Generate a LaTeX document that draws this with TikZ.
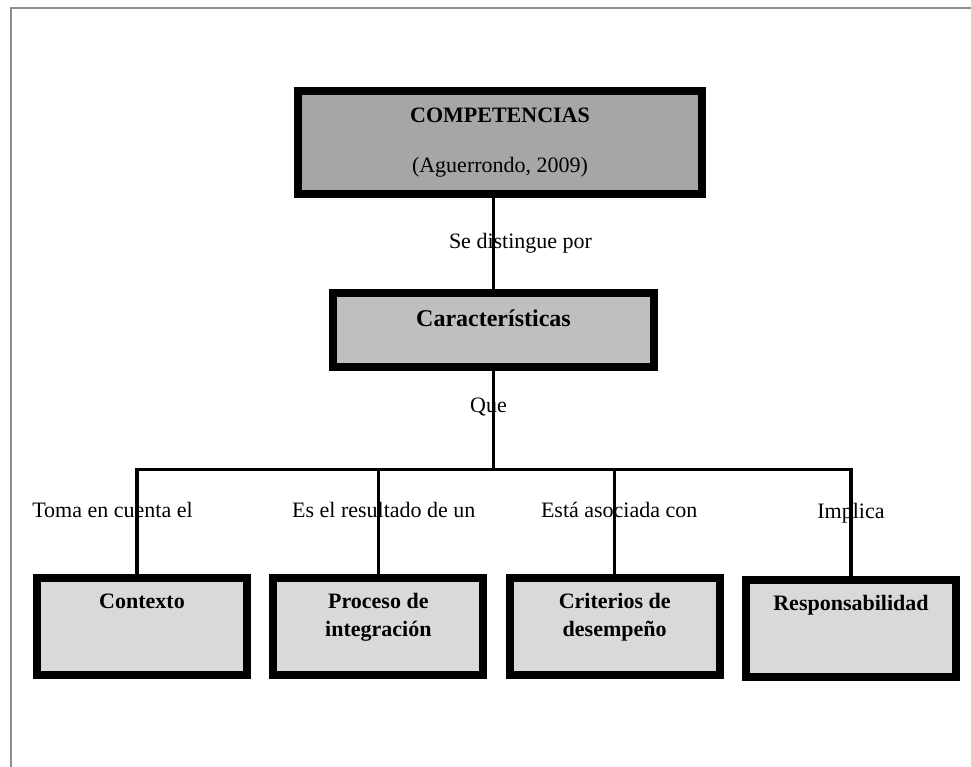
\documentclass[tikz,border=0pt]{standalone}
\usepackage{fontspec}
\setmainfont{Liberation Serif}
\usepackage{tikz}
\usetikzlibrary{positioning}
\definecolor{topgray}{HTML}{A6A6A6}
\definecolor{midgray}{HTML}{BFBFBF}
\definecolor{lowgray}{HTML}{D9D9D9}
\definecolor{framegray}{HTML}{8C8C8C}
\tikzstyle{box} = [ rectangle, draw = black, line width = 6pt, align = center, %
                    inner sep = 0pt, fill = lowgray, %
                    font = \bfseries\fontsize{16.5}{21}\selectfont ]
\tikzstyle{lowbox} = [ box, minimum width = 157.5pt, text height = 22.5pt, %
                       text depth = 50.25pt ]
\tikzstyle{lowboxtwo} = [ lowbox, text height = 43.5pt, text depth = 29.25pt ]
\tikzstyle{lbl} = [ inner sep = 0pt, text height = 11.5pt, text depth = 4pt, %
                    font = \fontsize{16.5}{20}\selectfont ]
\tikzstyle{link} = [line width = 2.4pt, line cap = rect]
\tikzstyle{frame} = [line width = 1.5pt, draw = framegray]

\begin{document}
\begin{tikzpicture}[x = 0.75pt, y = -0.75pt, node distance = 177.25pt]
      \useasboundingbox (0,0) rectangle (971,767);
      \draw [frame] (11,767) |- (971,8.5);
      % Boxes
      \node (comp) [box, fill = topgray, minimum width = 303pt, %
        text height = 60.75pt, text depth = 16.5pt, %
        font = \bfseries\fontsize{16.5}{37.5}\selectfont] at (500,142.5) %
        {COMPETENCIAS\\ {\mdseries (Aguerrondo, 2009)}};
      \node (carac) [box, fill = midgray, minimum width = 240.75pt, %
        text height = 24.75pt, text depth = 30.75pt, %
        font = \bfseries\fontsize{18}{22}\selectfont] at (493.5,330) %
        {Características};
      \node (ctx) [lowbox] at (142,626.5) {Contexto};
      \node (prc) [lowboxtwo, right of = ctx] {Proceso de\\ integración};
      \node (crit) [lowboxtwo, right of = prc] {Criterios de\\ desempeño};
      \node (resp) [lowbox, right of = crit, yshift = -1.5pt] %
        {Responsabilidad};
      \coordinate (bar) at (493.5,469.5);
      % Lines
      \draw [link] (comp.south -| carac.north) -- %
        node[lbl, xshift = 20.25pt] {Se distingue por} (carac.north);
      \draw [link] (carac.south) -- %
        node[lbl, pos = 0.375, xshift = -3.75pt] {Que} (bar);
      \draw [link] ([xshift = -3.75pt]ctx.north |- bar) -- (resp.north |- bar);
      \draw [link] ([xshift = -3.75pt]ctx.north |- bar) -- %
        node[lbl, pos = 0.41, xshift = -18.4pt] {Toma en cuenta el} %
        ([xshift = -3.75pt]ctx.north);
      \draw [link] (prc.north |- bar) -- %
        node[lbl, pos = 0.41, xshift = 4.1pt] {Es el resultado de un} %
        (prc.north);
      \draw [link] (crit.north |- bar) -- %
        node[lbl, pos = 0.41, xshift = 3.4pt] {Está asociada con} (crit.north);
      \draw [link] (resp.north |- bar) -- %
        node[lbl, pos = 0.41] {Implica} (resp.north);
    \end{tikzpicture}
\end{document}
